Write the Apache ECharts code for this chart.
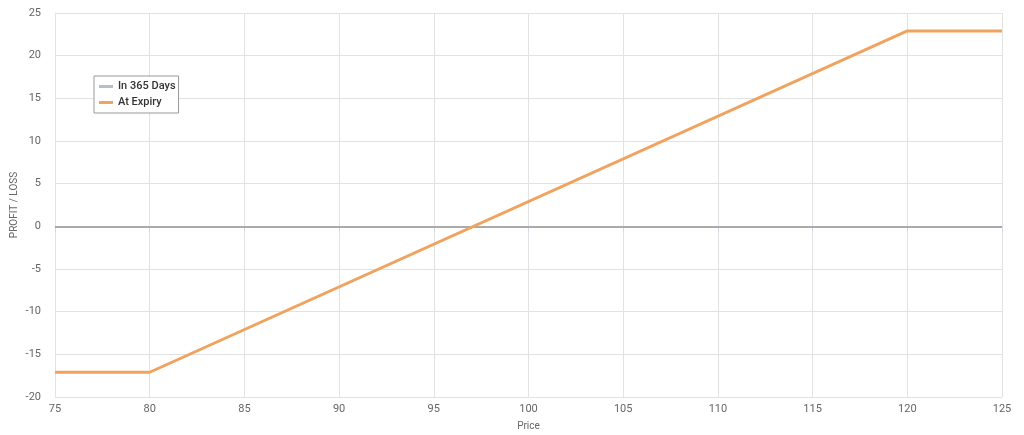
<!DOCTYPE html>
<html><head><meta charset="utf-8">
<script src="https://cdn.jsdelivr.net/npm/echarts@6/dist/echarts.min.js"></script>
<style>html,body{margin:0;padding:0;background:#fff}#c{width:1024px;height:435px}</style>
</head><body><div id="c"></div>
<script>
const prices = [75, 80, 120, 125];
const atExpiry = [-17.1, -17.1, 22.9, 22.9];
const in365Days = [];
const xTicks = [75, 80, 85, 90, 95, 100, 105, 110, 115, 120, 125];
const yTicks = [-20, -15, -10, -5, 0, 5, 10, 15, 20, 25];

const font = "Roboto,'Liberation Sans',sans-serif";
const chart = echarts.init(document.getElementById('c'));
chart.setOption({
  animation: false,
  textStyle: {fontFamily: font},
  grid: {left: 55, right: 22, top: 13, bottom: 38, outerBoundsMode: 'none', containLabel: false},
  legend: {
    orient: 'vertical', left: 94, top: 76,
    backgroundColor: '#fff', borderColor: '#999', borderWidth: 1, borderRadius: 0,
    padding: [5, 3, 5, 5], itemGap: 5, itemWidth: 14, itemHeight: 3,
    textStyle: {fontFamily: font, fontSize: 11, color: '#333', fontWeight: 500},
    data: [
      {name: 'In 365 Days', icon: 'rect', itemStyle: {color: '#b4bfcc'}},
      {name: 'At Expiry', icon: 'rect', itemStyle: {color: '#f0a35e'}}
    ]
  },
  xAxis: {
    type: 'value', min: xTicks[0], max: xTicks[xTicks.length - 1], interval: 5,
    name: 'Price', nameLocation: 'middle', nameGap: 24,
    nameTextStyle: {fontFamily: font, fontSize: 10, color: '#666'},
    axisLine: {show: true, lineStyle: {color: '#d0d8e8'}},
    axisTick: {show: true, length: 6, lineStyle: {color: '#d0d8e8'}},
    axisLabel: {fontFamily: font, fontSize: 11, color: '#666', margin: 7},
    splitLine: {show: true, lineStyle: {color: '#e2e2e2'}}
  },
  yAxis: {
    type: 'value', min: yTicks[0], max: yTicks[yTicks.length - 1], interval: 5,
    name: 'PROFIT / LOSS', nameLocation: 'middle', nameGap: 36, nameMoveOverlap: false,
    nameTextStyle: {fontFamily: font, fontSize: 10, color: '#666'},
    axisLine: {show: true, lineStyle: {color: '#e2e2e2'}},
    axisTick: {show: false},
    axisLabel: {fontFamily: font, fontSize: 11, color: '#666', margin: 14},
    splitLine: {show: true, lineStyle: {color: '#e2e2e2'}}
  },
  series: [
    {name: 'In 365 Days', type: 'line', data: in365Days, showSymbol: false,
     lineStyle: {color: '#b4bfcc', width: 2}, itemStyle: {color: '#b4bfcc'}},
    {name: 'At Expiry', type: 'line', showSymbol: false, z: 5,
     data: prices.map((p, i) => [p, atExpiry[i]]),
     lineStyle: {color: '#f0a35e', width: 3}, itemStyle: {color: '#f0a35e'},
     markLine: {silent: true, symbol: 'none', label: {show: false}, z: 1,
       lineStyle: {color: '#aaa', width: 2, type: 'solid'},
       data: [{yAxis: 0}]}
    }
  ]
});
</script></body></html>
